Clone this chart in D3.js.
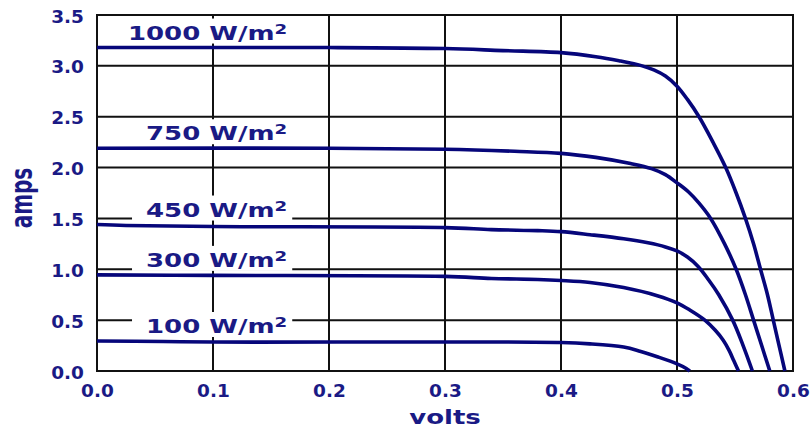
<!DOCTYPE html>
<html>
<head>
<meta charset="utf-8">
<script src="https://cdn.jsdelivr.net/npm/d3@7"></script>
<style>
  html, body { margin: 0; padding: 0; background: #fff; }
  svg { display: block; }
</style>
</head>
<body>
<svg id="chart" width="812" height="429"></svg>
<script>
// I-V curves, [volts, amps]
const curve1000 = [[0, 3.18], [0.1, 3.18], [0.2, 3.18], [0.3, 3.17], [0.35, 3.15], [0.4, 3.13], [0.43, 3.09], [0.45, 3.05], [0.47, 3.0], [0.48, 2.96], [0.49, 2.9], [0.5, 2.8], [0.509, 2.67], [0.519, 2.5], [0.531, 2.25], [0.542, 2.0], [0.551, 1.75], [0.559, 1.5], [0.566, 1.25], [0.572, 1.0], [0.578, 0.75], [0.583, 0.5], [0.588, 0.25], [0.593, 0]];
const curve750 = [[0, 2.19], [0.2, 2.19], [0.3, 2.18], [0.36, 2.16], [0.4, 2.14], [0.43, 2.1], [0.46, 2.04], [0.478, 1.99], [0.49, 1.93], [0.5, 1.85], [0.51, 1.76], [0.519, 1.65], [0.529, 1.5], [0.541, 1.25], [0.551, 1.0], [0.559, 0.75], [0.566, 0.5], [0.573, 0.25], [0.58, 0]];
const curve450 = [[0, 1.44], [0.025, 1.43], [0.1, 1.42], [0.3, 1.41], [0.34, 1.39], [0.38, 1.38], [0.4, 1.37], [0.425, 1.34], [0.454, 1.3], [0.475, 1.26], [0.49, 1.22], [0.5, 1.18], [0.509, 1.12], [0.518, 1.03], [0.527, 0.9], [0.536, 0.75], [0.548, 0.5], [0.557, 0.25], [0.565, 0]];
const curve300 = [[0, 0.945], [0.1, 0.94], [0.3, 0.93], [0.34, 0.91], [0.38, 0.9], [0.4, 0.89], [0.425, 0.87], [0.454, 0.82], [0.483, 0.74], [0.5, 0.67], [0.511, 0.6], [0.524, 0.5], [0.533, 0.4], [0.54, 0.3], [0.545, 0.2], [0.549, 0.1], [0.553, 0]];
const curve100 = [[0, 0.295], [0.057, 0.29], [0.1, 0.285], [0.4, 0.28], [0.425, 0.267], [0.454, 0.235], [0.468, 0.195], [0.483, 0.14], [0.5, 0.07], [0.508, 0.025], [0.511, 0]];

const irradiance = [1000, 750, 450, 300, 100];
const curves = [curve1000, curve750, curve450, curve300, curve100];
const xTicks = [0, 0.1, 0.2, 0.3, 0.4, 0.5, 0.6];
const yTicks = [0, 0.5, 1, 1.5, 2, 2.5, 3, 3.5];

const width = 812;
const height = 429;
const margin = { top: 15, right: 19, bottom: 58, left: 97 };
const navy = '#06067a';
const textColor = '#1a1a85';
const font = '"DejaVu Sans", Verdana, sans-serif';
const stretch = 1.3; // the labels in the picture are drawn wide

const svg = d3.select('#chart');
const x = d3.scaleLinear().domain([0, 0.6]).range([margin.left, width - margin.right]);
const y = d3.scaleLinear().domain([0, 3.5]).range([height - margin.bottom, margin.top]);

// grid (the outer lines make the frame)
const grid = svg.append('g').attr('stroke', '#111').attr('stroke-width', 2);
grid.selectAll('.vline')
  .data(xTicks)
  .enter()
  .append('line')
  .attr('x1', d => x(d)).attr('x2', d => x(d))
  .attr('y1', y(0) + 1).attr('y2', y(3.5) - 1);
grid.selectAll('.hline')
  .data(yTicks)
  .enter()
  .append('line')
  .attr('x1', x(0) - 1).attr('x2', x(0.6) + 1)
  .attr('y1', d => y(d)).attr('y2', d => y(d));

// tick labels
const xAxis = svg.append('g')
  .attr('transform', `translate(0,${y(0)})`)
  .call(d3.axisBottom(x).tickValues(xTicks).tickFormat(d3.format('.1f')).tickSize(0).tickPadding(13));
const yAxis = svg.append('g')
  .attr('transform', `translate(${x(0)},0)`)
  .call(d3.axisLeft(y).tickValues(yTicks).tickFormat(d3.format('.1f')).tickSize(0).tickPadding(13));
[xAxis, yAxis].forEach(g => {
  g.select('.domain').remove();
  g.selectAll('text')
    .attr('fill', textColor)
    .style('font-family', font)
    .style('font-weight', 'bold')
    .style('font-size', '18.5px');
});
yAxis.selectAll('text').attr('dy', '0.38em');

// irradiance labels sit just above each curve, with a white box over the grid
const boxLayer = svg.append('g');
const lineLayer = svg.append('g');
const labelLayer = svg.append('g');
const labelEnd = x(0.164);

const valueLine = d3.line()
  .x(d => x(d[0]))
  .y(d => y(d[1]))
  .curve(d3.curveCatmullRom.alpha(0.5));

for (let i = 0; i < curves.length; i++) {
  lineLayer.append('path')
    .attr('class', 'line-path')
    .attr('d', valueLine(curves[i]))
    .attr('fill', 'none')
    .attr('stroke', navy)
    .attr('stroke-width', 3.6)
    .attr('stroke-linejoin', 'round');

  let baseline = y(curves[i][0][1]) - 8;
  let label = labelLayer.append('text')
    .attr('transform', `translate(${labelEnd},${baseline}) scale(${stretch},1)`)
    .attr('text-anchor', 'end')
    .attr('fill', textColor)
    .style('font-family', font)
    .style('font-weight', 'bold')
    .style('font-size', '20px');
  label.append('tspan').text(`${irradiance[i]} W/m`);
  label.append('tspan').attr('dy', -6).style('font-size', '14px').text('2');

  let w = label.node().getBBox().width * stretch;
  boxLayer.append('rect')
    .attr('x', labelEnd - w - 14)
    .attr('y', baseline - 21)
    .attr('width', w + 19)
    .attr('height', 25)
    .attr('fill', '#fff');
}

// axis titles
svg.append('text')
  .attr('transform', `translate(${x(0.3)},${y(0) + 53}) scale(${stretch},1)`)
  .attr('text-anchor', 'middle')
  .attr('fill', textColor)
  .style('font-family', font)
  .style('font-weight', 'bold')
  .style('font-size', '20px')
  .text('volts');
svg.append('text')
  .attr('transform', `translate(32,${y(1.7)}) rotate(-90) scale(1,1.5)`)
  .attr('text-anchor', 'middle')
  .attr('fill', textColor)
  .style('font-family', font)
  .style('font-weight', 'bold')
  .style('font-size', '20px')
  .text('amps');
</script>
</body>
</html>
